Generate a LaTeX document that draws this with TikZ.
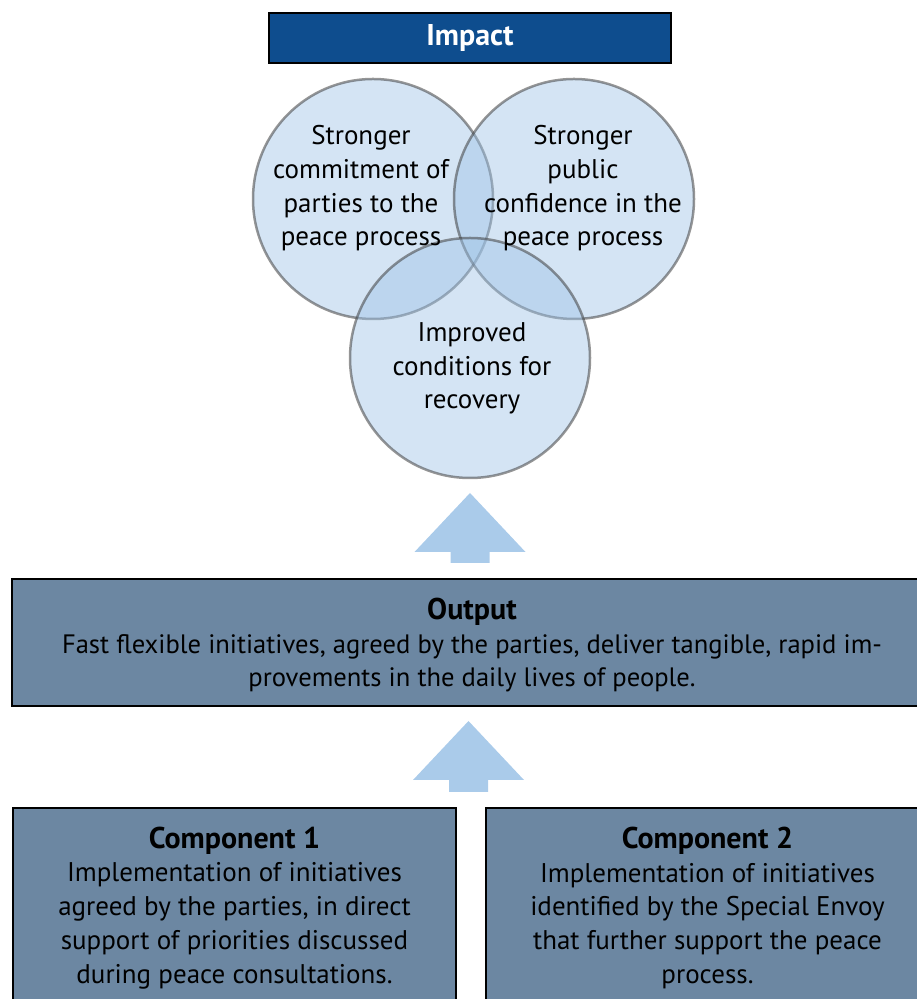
\documentclass[tikz,border=0pt]{standalone}
\usepackage{fontspec}
\setmainfont{PT Sans}
\usetikzlibrary{positioning,calc}

\definecolor{impactblue}{RGB}{14,77,142}
\definecolor{slate}{RGB}{108,135,162}
\definecolor{arrowblue}{RGB}{170,203,234}
\definecolor{circleblue}{RGB}{157,194,230}

% block arrow pointing up, from #1 (foot) to #2 (tip)
\newcommand{\upblock}[2]{%
  \fill[blockarrow] let \p1=(#1), \p2=(#2) in
    (\x1-19.5pt,\y1) -- (\x1+19.5pt,\y1) -- (\x1+19.5pt,\y2-59pt) -- (\x1+55.5pt,\y2-59pt)
    -- (\x1,\y2) -- (\x1-55.5pt,\y2-59pt) -- (\x1-19.5pt,\y2-59pt) -- cycle;}
\newcommand{\boxtitle}[1]{\rule{0pt}{27pt}{\bfseries\fontsize{30}{33.7}\selectfont #1}}

\tikzset{
  box/.style={draw=black, line width=2pt, fill=slate, align=center, inner sep=0pt, outer sep=0pt},
  impactbox/.style={draw=black, line width=2pt, fill=impactblue, text=white, outer sep=0pt,
    font=\bfseries\fontsize{30}{32}\selectfont, minimum width=402pt, minimum height=50pt},
  bubble/.style={circle, fill=circleblue, fill opacity=0.44, draw=black!75, draw opacity=0.55,
    line width=2.5pt, minimum size=240pt, inner sep=0pt, outer sep=0pt},
  bubbletext/.style={align=center},
  blockarrow/.style={fill=arrowblue}
}

\begin{document}
\begin{tikzpicture}[x=1pt, y=1pt, font=\fontsize{27}{33.7}\selectfont]
    \useasboundingbox (0,0) rectangle (917,999);
    \clip (0,0) rectangle (917,999);
    \node[impactbox] (impact) at (470,961) {Impact};
    \node[bubble] (c1) at (373,800) {};
    \node[bubble] (c2) at (574,800) {};
    \node[bubble] (c3) at (470,641) {};
    \node[bubbletext] (t1) at ($(c1)+(-12,10.5)$) {Stronger\\commitment of\\parties to the\\peace process};
    \node[bubbletext] (t2) at ($(c2)+(9,10.5)$) {Stronger\\public\\confidence in the\\peace process};
    \node[bubbletext] (t3) at ($(c3)+(2,-10.5)$) {Improved\\conditions for\\recovery};
    \node[box, minimum width=920pt, minimum height=127pt, font=\fontsize{26.6}{33.4}\selectfont] (output) at (472,356.5)
      {\boxtitle{Output}\\Fast flexible initiatives, agreed by the parties, deliver tangible, rapid im-\\provements in the daily lives of people.};
    \node[box, minimum width=443pt, minimum height=194pt, anchor=north] (comp1) at (234.5,191)
      {\boxtitle{Component 1}\\Implementation of initiatives\\agreed by the parties, in direct\\support of priorities discussed\\during peace consultations.};
    \node[box, minimum width=443pt, minimum height=194pt, right=30pt of comp1] (comp2)
      {\boxtitle{Component 2}\\Implementation of initiatives\\identified by the Special Envoy\\that further support the peace\\process.};
    \coordinate (a1s) at ([yshift=16pt]output.north -| c3.south);
    \coordinate (a1e) at ([yshift=-15pt]c3.south);
    \upblock{a1s}{a1e}
    \coordinate (a2s) at (468.5,207);
    \coordinate (a2e) at ([yshift=-15pt]output.south -| a2s);
    \upblock{a2s}{a2e}
\end{tikzpicture}
\end{document}
